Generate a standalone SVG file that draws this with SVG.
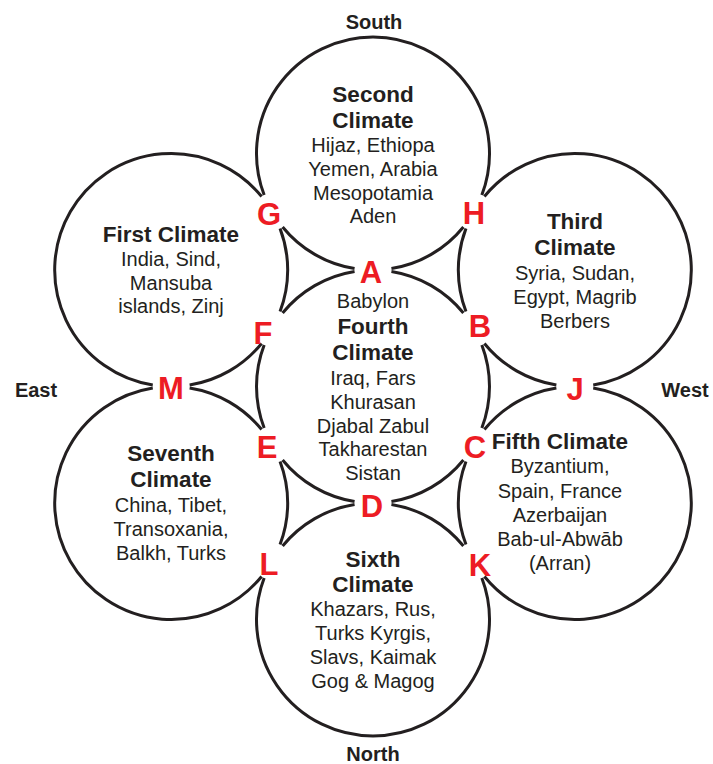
<svg xmlns="http://www.w3.org/2000/svg" width="713" height="764" viewBox="0 0 713 764">
<style>
.arc{fill:none;stroke:#231f20;stroke-width:3}
text{font-family:"Liberation Sans",Arial,Helvetica,sans-serif;fill:#231f20;text-anchor:middle}
.t{font-size:22.5px;font-weight:bold}
.b{font-size:20px}
.pt{font-size:31px;font-weight:bold;fill:#ed1c24}
.dir{font-size:20px;font-weight:bold}
</style>
<rect width="713" height="764" fill="#fff"/>
<g id="fourth-climate">
<path class="arc" d="M391.43,271.47 A116.5,116.5 0 0 1 463.41,313.03"/>
<path class="arc" d="M481.83,344.94 A116.5,116.5 0 0 1 481.83,428.06"/>
<path class="arc" d="M463.41,459.97 A116.5,116.5 0 0 1 391.43,501.53"/>
<path class="arc" d="M354.57,501.53 A116.5,116.5 0 0 1 282.59,459.97"/>
<path class="arc" d="M264.17,428.06 A116.5,116.5 0 0 1 264.17,344.94"/>
<path class="arc" d="M282.59,313.03 A116.5,116.5 0 0 1 354.57,271.47"/>
<text class="b" x="373" y="308">Babylon</text>
<text class="t" x="373" y="334">Fourth</text>
<text class="t" x="373" y="360">Climate</text>
<text class="b" x="373" y="385">Iraq, Fars</text>
<text class="b" x="373" y="409">Khurasan</text>
<text class="b" x="373" y="433">Djabal Zabul</text>
<text class="b" x="373" y="456">Takharestan</text>
<text class="b" x="373" y="480">Sistan</text>
</g>
<g id="second-climate">
<path class="arc" d="M463.41,226.97 A116.5,116.5 0 0 1 391.43,268.53"/>
<path class="arc" d="M354.57,268.53 A116.5,116.5 0 0 1 282.59,226.97"/>
<path class="arc" d="M264.17,195.06 A116.5,116.5 0 1 1 481.83,195.06"/>
<text class="t" x="373" y="102">Second</text>
<text class="t" x="373" y="128">Climate</text>
<text class="b" x="373" y="152">Hijaz, Ethiopa</text>
<text class="b" x="373" y="176">Yemen, Arabia</text>
<text class="b" x="373" y="200">Mesopotamia</text>
<text class="b" x="373" y="223">Aden</text>
</g>
<g id="first-climate">
<path class="arc" d="M280.03,228.44 A116.5,116.5 0 0 1 280.03,311.56"/>
<path class="arc" d="M261.61,343.47 A116.5,116.5 0 0 1 189.63,385.03"/>
<path class="arc" d="M152.77,385.03 A116.5,116.5 0 1 1 261.61,196.53"/>
<text class="t" x="171" y="242">First Climate</text>
<text class="b" x="171" y="266">India, Sind,</text>
<text class="b" x="171" y="290">Mansuba</text>
<text class="b" x="171" y="313">islands, Zinj</text>
</g>
<g id="third-climate">
<path class="arc" d="M556.37,385.03 A116.5,116.5 0 0 1 484.39,343.47"/>
<path class="arc" d="M465.97,311.56 A116.5,116.5 0 0 1 465.97,228.44"/>
<path class="arc" d="M484.39,196.53 A116.5,116.5 0 1 1 593.23,385.03"/>
<text class="t" x="575" y="229">Third</text>
<text class="t" x="575" y="255">Climate</text>
<text class="b" x="575" y="280">Syria, Sudan,</text>
<text class="b" x="575" y="304">Egypt, Magrib</text>
<text class="b" x="575" y="328">Berbers</text>
</g>
<g id="fifth-climate">
<path class="arc" d="M465.97,544.56 A116.5,116.5 0 0 1 465.97,461.44"/>
<path class="arc" d="M484.39,429.53 A116.5,116.5 0 0 1 556.37,387.97"/>
<path class="arc" d="M593.23,387.97 A116.5,116.5 0 1 1 484.39,576.47"/>
<text class="t" x="560" y="449">Fifth Climate</text>
<text class="b" x="560" y="473">Byzantium,</text>
<text class="b" x="560" y="498">Spain, France</text>
<text class="b" x="560" y="522">Azerbaijan</text>
<text class="b" x="560" y="546">Bab-ul-Abwāb</text>
<text class="b" x="560" y="570">(Arran)</text>
</g>
<g id="sixth-climate">
<path class="arc" d="M282.59,546.03 A116.5,116.5 0 0 1 354.57,504.47"/>
<path class="arc" d="M391.43,504.47 A116.5,116.5 0 0 1 463.41,546.03"/>
<path class="arc" d="M481.83,577.94 A116.5,116.5 0 1 1 264.17,577.94"/>
<text class="t" x="373" y="567">Sixth</text>
<text class="t" x="373" y="592">Climate</text>
<text class="b" x="373" y="616">Khazars, Rus,</text>
<text class="b" x="373" y="640">Turks Kyrgis,</text>
<text class="b" x="373" y="664">Slavs, Kaimak</text>
<text class="b" x="373" y="688">Gog &amp; Magog</text>
</g>
<g id="seventh-climate">
<path class="arc" d="M189.63,387.97 A116.5,116.5 0 0 1 261.61,429.53"/>
<path class="arc" d="M280.03,461.44 A116.5,116.5 0 0 1 280.03,544.56"/>
<path class="arc" d="M261.61,576.47 A116.5,116.5 0 1 1 152.77,387.97"/>
<text class="t" x="171" y="461">Seventh</text>
<text class="t" x="171" y="487">Climate</text>
<text class="b" x="171" y="512">China, Tibet,</text>
<text class="b" x="171" y="536">Transoxania,</text>
<text class="b" x="171" y="560">Balkh, Turks</text>
</g>
<g id="contact-points">
<text class="pt" x="371" y="283">A</text>
<text class="pt" x="480" y="337">B</text>
<text class="pt" x="475" y="458">C</text>
<text class="pt" x="372" y="517">D</text>
<text class="pt" x="267" y="458">E</text>
<text class="pt" x="263" y="344">F</text>
<text class="pt" x="269" y="225">G</text>
<text class="pt" x="474" y="224">H</text>
<text class="pt" x="575" y="400">J</text>
<text class="pt" x="480" y="576">K</text>
<text class="pt" x="269" y="575">L</text>
<text class="pt" x="171" y="399">M</text>
</g>
<g id="directions">
<text class="dir" x="374" y="29">South</text>
<text class="dir" x="373" y="761">North</text>
<text class="dir" x="36" y="397">East</text>
<text class="dir" x="685" y="397">West</text>
</g>
</svg>
